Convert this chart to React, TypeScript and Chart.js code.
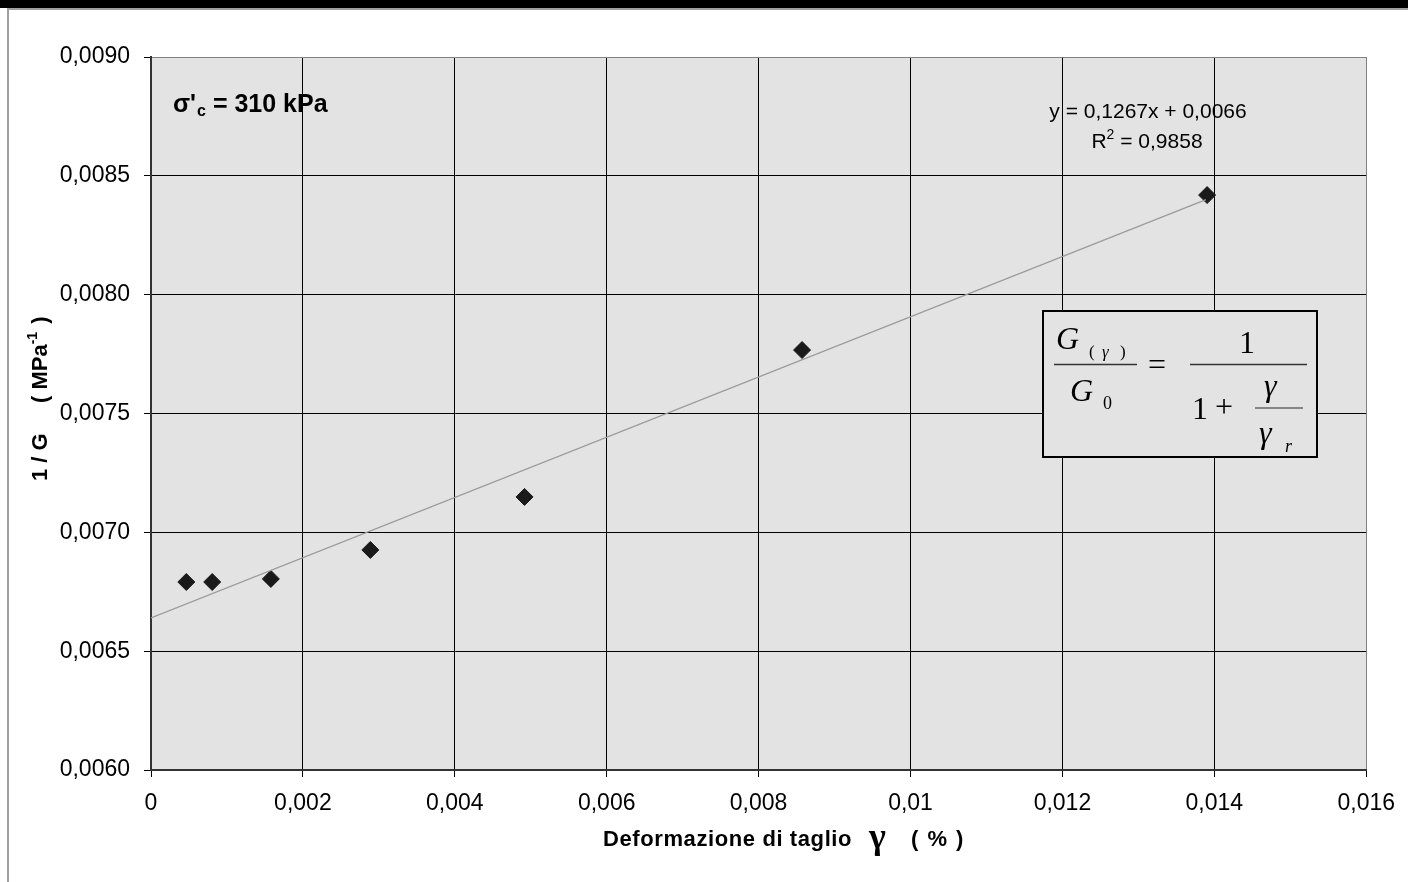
import React, { useEffect, useRef } from "react";
import { Chart, registerables } from "chart.js";

Chart.register(...registerables);

const strainValues = [0.000465, 0.000806, 0.001578, 0.002888, 0.004918, 0.008572, 0.013905];
const inverseG = [0.006791, 0.006791, 0.006804, 0.006926, 0.007149, 0.007767, 0.008419];
const trendX = [0, 0.01389];
const trendY = [0.00664, 0.0084];
const xTickStep = 0.002;
const yTickStep = 0.0005;
const equationText = "y = 0,1267x + 0,0066";
const r2Text = " = 0,9858";
const stressLabel = " = 310 kPa";

const SANS = '"Liberation Sans", Arial, sans-serif';
const SERIF = '"Liberation Serif", "Times New Roman", serif';
const PLOT_BG = "#e3e3e3";

function fmt(v: number, digits: number) {
  return Number(v.toFixed(digits)).toString().replace(".", ",");
}

const decorPlugin = {
  id: "decor",
  beforeDraw(chart: any) {
    const { ctx, chartArea: a, width, height } = chart;
    ctx.save();
    ctx.fillStyle = "#ffffff";
    ctx.fillRect(0, 0, width, height);
    ctx.fillStyle = "#000";
    ctx.fillRect(0, 0, width, 8);
    ctx.fillStyle = "#a0a0a0";
    ctx.fillRect(8, 8, width - 8, 2);
    ctx.fillRect(7, 8, 2, height - 8);
    ctx.fillStyle = PLOT_BG;
    ctx.fillRect(a.left, a.top, a.right - a.left, a.bottom - a.top);
    ctx.restore();
  },
  afterDraw(chart: any) {
    const { ctx } = chart;
    ctx.save();
    ctx.fillStyle = "#000";
    ctx.textBaseline = "alphabetic";
    ctx.textAlign = "left";
    const setSpacing = (s: string) => {
      try {
        (ctx as any).letterSpacing = s;
      } catch (e) {}
    };

    // sigma label
    let x = 173;
    ctx.font = `bold 25px ${SANS}`;
    ctx.fillText("σ'", x, 112);
    x += ctx.measureText("σ'").width + 1;
    ctx.font = `bold 16px ${SANS}`;
    ctx.fillText("c", x, 116);
    x += ctx.measureText("c").width;
    ctx.font = `bold 25px ${SANS}`;
    ctx.fillText(stressLabel, x, 112);

    // trendline equation
    ctx.font = `21px ${SANS}`;
    ctx.textAlign = "center";
    ctx.fillText(equationText, 1148, 118);
    ctx.textAlign = "left";
    const rW = ctx.measureText("R").width;
    ctx.font = `14px ${SANS}`;
    const sW = ctx.measureText("2").width;
    ctx.font = `21px ${SANS}`;
    const restW = ctx.measureText(r2Text).width;
    let rx = 1147 - (rW + sW + restW) / 2;
    ctx.fillText("R", rx, 148);
    rx += rW;
    ctx.font = `14px ${SANS}`;
    ctx.fillText("2", rx, 139);
    rx += sW;
    ctx.font = `21px ${SANS}`;
    ctx.fillText(r2Text, rx, 148);

    // formula box
    ctx.fillStyle = PLOT_BG;
    ctx.fillRect(1043, 311, 274, 146);
    ctx.strokeStyle = "#000";
    ctx.lineWidth = 2;
    ctx.strokeRect(1043, 311, 274, 146);
    ctx.fillStyle = "#000";
    ctx.font = `italic 32px ${SERIF}`;
    ctx.fillText("G", 1056, 349);
    ctx.font = `17px ${SERIF}`;
    ctx.fillText("(", 1089, 357);
    ctx.font = `italic 17px ${SERIF}`;
    ctx.fillText("γ", 1102, 357);
    ctx.font = `17px ${SERIF}`;
    ctx.fillText(")", 1120, 357);
    ctx.font = `italic 32px ${SERIF}`;
    ctx.fillText("G", 1070, 401);
    ctx.font = `18px ${SERIF}`;
    ctx.fillText("0", 1103, 409);
    ctx.strokeStyle = "#333";
    ctx.lineWidth = 1.5;
    ctx.beginPath();
    ctx.moveTo(1054, 364.5);
    ctx.lineTo(1137, 364.5);
    ctx.moveTo(1190, 364.5);
    ctx.lineTo(1307, 364.5);
    ctx.stroke();
    ctx.strokeStyle = "#666";
    ctx.beginPath();
    ctx.moveTo(1255, 408);
    ctx.lineTo(1303, 408);
    ctx.stroke();
    ctx.font = `32px ${SERIF}`;
    ctx.fillText("=", 1148, 375);
    ctx.fillText("1", 1239, 353);
    ctx.fillText("1", 1192, 419);
    ctx.fillText("+", 1215, 417);
    ctx.font = `italic 32px ${SERIF}`;
    ctx.fillText("γ", 1264, 396);
    ctx.fillText("γ", 1259, 443);
    ctx.font = `italic 18px ${SERIF}`;
    ctx.fillText("r", 1285, 452);

    // x axis title
    ctx.font = `bold 22px ${SANS}`;
    setSpacing("0.6px");
    const t1 = "Deformazione di taglio";
    ctx.fillText(t1, 603, 846);
    setSpacing("0px");
    ctx.font = `bold 36px ${SERIF}`;
    ctx.fillText("γ", 869, 848);
    ctx.font = `bold 22px ${SANS}`;
    setSpacing("1.5px");
    ctx.fillText("( % )", 911, 846);
    setSpacing("0px");

    // y axis title
    ctx.translate(47, 481);
    ctx.rotate(-Math.PI / 2);
    ctx.font = `bold 22px ${SANS}`;
    ctx.fillText("1 / G", 0, 0);
    let yx = 78;
    ctx.fillText("( MPa", yx, 0);
    yx += ctx.measureText("( MPa").width;
    ctx.font = `bold 14px ${SANS}`;
    ctx.fillText("-1", yx, -10);
    yx += ctx.measureText("-1").width + 2;
    ctx.font = `bold 22px ${SANS}`;
    ctx.fillText(" )", yx, 0);
    ctx.restore();
  },
};

export default function App() {
  const ref = useRef<HTMLCanvasElement | null>(null);
  useEffect(() => {
    document.body.style.margin = "0";
    const canvas = ref.current;
    if (!canvas) return;
    const chart = new Chart(canvas, {
      type: "scatter",
      data: {
        datasets: [
          {
            label: "trend",
            data: trendX.map((v, i) => ({ x: v, y: trendY[i] })),
            showLine: true,
            borderColor: "#9a9a9a",
            borderWidth: 1.2,
            pointRadius: 0,
            fill: false,
          },
          {
            label: "1/G",
            data: strainValues.map((v, i) => ({ x: v, y: inverseG[i] })),
            pointStyle: "rectRot",
            pointRadius: 8.5,
            backgroundColor: "#1a1a1a",
            borderColor: "#1a1a1a",
            borderWidth: 1,
          },
        ],
      },
      options: {
        responsive: false,
        animation: false,
        devicePixelRatio: 1,
        layout: { padding: { top: 57, right: 35, left: 0, bottom: 0 } },
        plugins: { legend: { display: false }, tooltip: { enabled: false }, title: { display: false } },
        scales: {
          x: {
            type: "linear",
            min: 0,
            max: 0.016,
            afterFit(scale: any) {
              scale.height = 112;
            },
            ticks: {
              stepSize: xTickStep,
              color: "#000",
              padding: 13,
              font: { family: SANS, size: 23 },
              callback: (v: any) => fmt(Number(v), 4),
            },
            grid: {
              color: (c: any) => (c.tick && Math.abs(c.tick.value - 0.016) < 1e-9 ? "#808080" : "#000"),
              lineWidth: 1,
              tickLength: 7,
              tickColor: "#000",
            },
            border: { display: true, color: "#333", width: 2 },
          },
          y: {
            type: "linear",
            min: 0.006,
            max: 0.009,
            afterFit(scale: any) {
              scale.width = 151;
            },
            ticks: {
              stepSize: yTickStep,
              color: "#000",
              padding: 14,
              font: { family: SANS, size: 23 },
              callback: (v: any) => Number(v).toFixed(4).replace(".", ","),
            },
            grid: {
              color: (c: any) => (c.tick && Math.abs(c.tick.value - 0.009) < 1e-9 ? "#808080" : "#000"),
              lineWidth: 1,
              tickLength: 7,
              tickColor: "#000",
            },
            border: { display: true, color: "#333", width: 2 },
          },
        },
      },
      plugins: [decorPlugin],
    });
    return () => chart.destroy();
  }, []);
  return (
    <div style={{ position: "absolute", left: 0, top: 0, width: 1408, height: 882 }}>
      <canvas ref={ref} width={1408} height={882} style={{ width: 1408, height: 882, display: "block" }} />
    </div>
  );
}
